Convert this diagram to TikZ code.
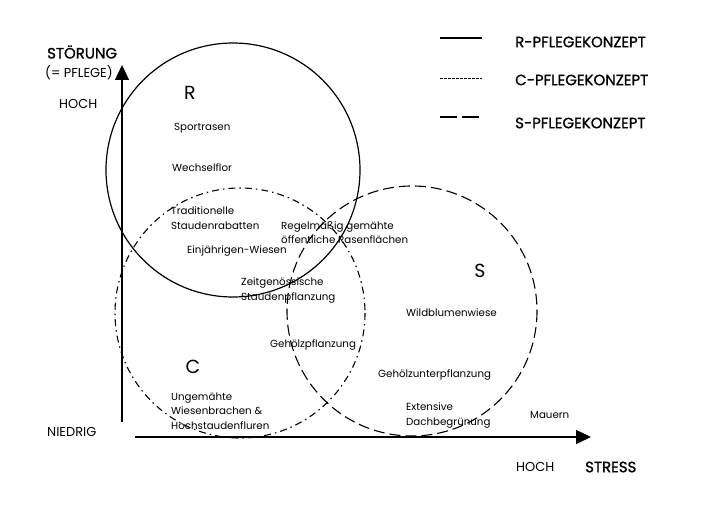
\documentclass[tikz,border=0pt]{standalone}
\usepackage{fontspec}
\setmainfont{Poppins}
\usetikzlibrary{arrows.meta}
\usetikzlibrary{positioning}

\begin{document}
\begin{tikzpicture}[x=1bp,y=-1bp]
  \tikzset{plant/.style = {anchor=west,inner sep=0pt,align=left,font=\fontsize{10.3}{14.5}\selectfont}}
  \tikzset{bigletter/.style = {inner sep=0pt,font=\fontsize{19}{20}\selectfont}}
  \tikzset{axislabel/.style = {anchor=west,inner sep=0pt,font=\fontsize{13}{14}\selectfont}}
  \tikzset{axistitle/.style = {anchor=west,inner sep=0pt,font=\fontsize{15}{16}\selectfont\addfontfeature{FakeBold=1.2}}}
  \tikzset{rline/.style = {line width=1.2bp}}
  \tikzset{cline/.style = {line width=1.1bp, dash pattern=on 7bp off 4bp on 1.5bp off 4bp}}
  \tikzset{sline/.style = {line width=1.1bp, dash pattern=on 11bp off 5bp}}
  \tikzset{cleg/.style = {line width=0.8bp, dash pattern=on 2.5bp off 1.5bp}}
  \tikzset{sleg/.style = {line width=1.1bp, dash pattern=on 17bp off 5bp}}
  \tikzset{%
  tipT/.tip={Triangle[length=15bp,width=14bp]},
}
  \useasboundingbox (0,0) rectangle (701,505);

  % axes
  \coordinate (O1) at (122,422);
  \coordinate (Ytop) at (122,65);
  \coordinate (O2) at (135,437);
  \coordinate (Xend) at (591,437);
  \draw[line width=1.3bp,-tipT] (O1) -- (Ytop);
  \draw[line width=1.3bp,-tipT] (O2) -- (Xend);

  \node[axistitle] (stoer) at (47,52) {STÖRUNG};
  \node[axislabel] (pflege) at (45,73) {(= PFLEGE)};
  \node[axislabel] (hochY) at (59,104) {HOCH};
  \node[axislabel] (niedrig) at (47,432) {NIEDRIG};
  \node[axislabel] (hochX) at (516,467) {HOCH};
  \node[axistitle] (stress) at (585,467) {STRESS};

  % circles
  \coordinate (cR) at (233,170);
  \coordinate (cC) at (240,313);
  \coordinate (cS) at (412,311);
  \draw[rline] (cR) circle (127);
  \draw[cline] (cC) circle (125);
  \draw[sline] (cS) circle (125);

  \node[bigletter] (R) at (190,93) {R};
  \node[bigletter] (C) at (193,367) {C};
  \node[bigletter] (S) at (480,271) {S};

  % plantings
  \node[plant] (sport) at (174,128) {Sportrasen};
  \node[plant] (wechsel) at (172,168) {Wechselflor};
  \node[plant] (tradi) at (171,218) {Traditionelle\\Staudenrabatten};
  \node[plant] (einj) at (187,251) {Einjährigen-Wiesen};
  \node[plant] (rasen) at (281,232.5) {Regelmäßig gemähte\\öffentliche Rasenflächen};
  \node[plant] (zeit) at (241,290.5) {Zeitgenössische\\Staudenpflanzung};
  \node[plant] (wild) at (406,313) {Wildblumenwiese};
  \node[plant] (gehoelz) at (270,345) {Gehölzpflanzung};
  \node[plant] (unter) at (378,375) {Gehölzunterpflanzung};
  \node[plant] (ungem) at (171,411) {Ungemähte\\Wiesenbrachen \&\\Hochstaudenfluren};
  \node[plant] (dach) at (406,415.5) {Extensive\\Dachbegrünung};
  \node[plant] (mauern) at (530,415) {Mauern};

  % legend
  \foreach \y/\sty/\name/\txt in {38/rline/legR/R, 78/cleg/legC/C, 117/sleg/legS/S}
  {
    \coordinate (\name a) at (440,\y);
    \coordinate (\name b) at (482,\y);
    \draw[\sty] (\name a) -- (\name b);
  }
  \node[axistitle] (txtR) at (515,42) {R-PFLEGEKONZEPT};
  \node[axistitle] (txtC) at (515,80) {C-PFLEGEKONZEPT};
  \node[axistitle] (txtS) at (515,123) {S-PFLEGEKONZEPT};

\end{tikzpicture}
\end{document}
